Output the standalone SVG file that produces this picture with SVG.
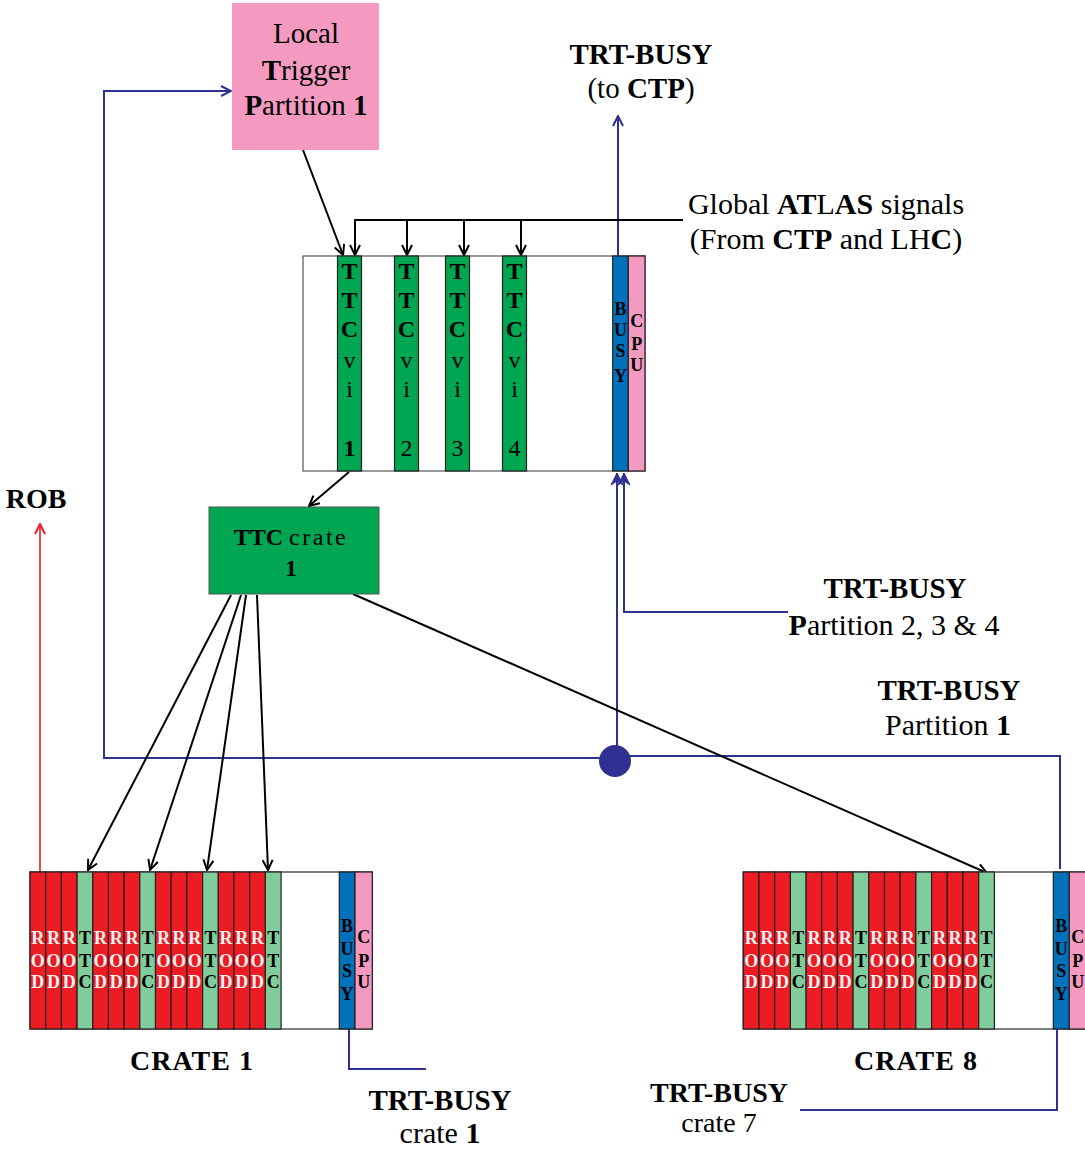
<svg xmlns="http://www.w3.org/2000/svg" width="1085" height="1151" viewBox="0 0 1085 1151">
<style>
text{font-family:"Liberation Serif","Times New Roman",serif;fill:#000}
.b{font-weight:bold}
.lab{font-size:29px;text-anchor:middle}
.lab2{font-size:30px;text-anchor:middle}
.slot{stroke:#231f20;stroke-width:1.2}
.red{fill:#ed1c24}
.lg{fill:#80cc9a}
.dg{fill:#00a651}
.busy{fill:#0072bc}
.cpu{fill:#f49ac1}
.st{font-size:18px;font-weight:bold;text-anchor:middle}
.w{fill:#f2f2f2}
.bl{fill:none;stroke:#2e3192;stroke-width:2}
.k{fill:none;stroke:#000;stroke-width:2}
</style>
<defs>
<marker id="ak" viewBox="0 0 12 12" refX="11" refY="6" markerWidth="12" markerHeight="12" markerUnits="userSpaceOnUse" orient="auto"><path d="M1,1 L11,6 L1,11" fill="none" stroke="#000" stroke-width="2"/></marker>
<marker id="ab" viewBox="0 0 12 12" refX="11" refY="6" markerWidth="12" markerHeight="12" markerUnits="userSpaceOnUse" orient="auto"><path d="M1,1 L11,6 L1,11" fill="none" stroke="#2e3192" stroke-width="2"/></marker>
<marker id="abf" viewBox="0 0 14 14" refX="13" refY="7" markerWidth="14" markerHeight="14" markerUnits="userSpaceOnUse" orient="auto"><path d="M1,1 L13,7 L1,13 L5,7 Z" fill="#2e3192" stroke="#2e3192" stroke-width="1"/></marker>
<marker id="ar" viewBox="0 0 12 12" refX="11" refY="6" markerWidth="12" markerHeight="12" markerUnits="userSpaceOnUse" orient="auto"><path d="M1,1 L11,6 L1,11" fill="none" stroke="#ed1c24" stroke-width="2"/></marker>
</defs>
<rect width="1085" height="1151" fill="#fff"/>

<g id="connectors">
  <path class="bl" d="M617,758 L617,473" marker-end="url(#abf)"/>
  <path class="bl" d="M618,256 L618,116" marker-end="url(#ab)"/>
  <path class="bl" d="M788,612 L624,612 L624,473" marker-end="url(#abf)"/>
  <path class="bl" d="M600,758 L104,758 L104,91 L231,91" marker-end="url(#ab)"/>
  <path class="bl" d="M630,756 L1060,756 L1060,869"/>
  <path class="bl" d="M349,1029 L349,1069 L426,1069"/>
  <path class="bl" d="M1057,1029 L1057,1110 L800,1110"/>
  <path d="M40,872 L40,524" fill="none" stroke="#ed1c24" stroke-width="1.6" marker-end="url(#ar)"/>
  <path class="k" d="M303,150 L343,255" marker-end="url(#ak)"/>
  <path class="k" d="M683,220 L355,220 L355,255" marker-end="url(#ak)"/>
  <path class="k" d="M407,220 L407,255" marker-end="url(#ak)"/>
  <path class="k" d="M464,220 L464,255" marker-end="url(#ak)"/>
  <path class="k" d="M521,220 L521,255" marker-end="url(#ak)"/>
  <path class="k" d="M349,472 L309,506" marker-end="url(#ak)"/>
  <path class="k" d="M231,595 L88,870" marker-end="url(#ak)"/>
  <path class="k" d="M241,595 L150,870" marker-end="url(#ak)"/>
  <path class="k" d="M246,595 L207,870" marker-end="url(#ak)"/>
  <path class="k" d="M257,595 L268,870" marker-end="url(#ak)"/>
  <path class="k" d="M353,594 L987,873" marker-end="url(#ak)"/>
  <circle cx="615" cy="761" r="16" fill="#2e3192"/>
</g>

<g id="local-trigger">
  <rect x="232" y="3" width="147" height="147" fill="#f49ac1"/>
  <text x="306" y="43" style="font-size:29px;text-anchor:middle">Local</text>
  <text x="306" y="80" style="font-size:29px;text-anchor:middle"><tspan class="b">T</tspan>rigger</text>
  <text x="306" y="115" style="font-size:29px;text-anchor:middle"><tspan class="b">P</tspan>artition <tspan class="b">1</tspan></text>
</g>

<g id="ttcvi-crate">
  <rect x="303" y="256" width="342" height="215" fill="#fff" stroke="#555" stroke-width="1.2"/>
  <rect class="slot dg" x="337.5" y="256" width="24" height="215"/>
  <rect class="slot dg" x="394.5" y="256" width="24" height="215"/>
  <rect class="slot dg" x="445.5" y="256" width="24" height="215"/>
  <rect class="slot dg" x="502.5" y="256" width="24" height="215"/>
  <rect class="slot busy" x="612.7" y="256" width="15.6" height="215"/>
  <rect class="slot cpu" x="628.3" y="256" width="16.7" height="215"/>
  <g style="font-size:24px;text-anchor:middle">
    <text x="349.5"><tspan class="b" x="349.5" y="279">T</tspan><tspan class="b" x="349.5" y="308">T</tspan><tspan class="b" x="349.5" y="337">C</tspan><tspan x="349.5" y="368">v</tspan><tspan x="349.5" y="397">i</tspan><tspan class="b" x="349.5" y="456">1</tspan></text>
    <text x="406.5"><tspan class="b" x="406.5" y="279">T</tspan><tspan class="b" x="406.5" y="308">T</tspan><tspan class="b" x="406.5" y="337">C</tspan><tspan x="406.5" y="368">v</tspan><tspan x="406.5" y="397">i</tspan><tspan x="406.5" y="456">2</tspan></text>
    <text x="457.5"><tspan class="b" x="457.5" y="279">T</tspan><tspan class="b" x="457.5" y="308">T</tspan><tspan class="b" x="457.5" y="337">C</tspan><tspan x="457.5" y="368">v</tspan><tspan x="457.5" y="397">i</tspan><tspan x="457.5" y="456">3</tspan></text>
    <text x="514.5"><tspan class="b" x="514.5" y="279">T</tspan><tspan class="b" x="514.5" y="308">T</tspan><tspan class="b" x="514.5" y="337">C</tspan><tspan x="514.5" y="368">v</tspan><tspan x="514.5" y="397">i</tspan><tspan x="514.5" y="456">4</tspan></text>
  </g>
  <text class="b" style="font-size:18px;text-anchor:middle"><tspan x="620.5" y="315">B</tspan><tspan x="620.5" y="336">U</tspan><tspan x="620.5" y="357">S</tspan><tspan x="620.5" y="382">Y</tspan></text>
  <text class="b" style="font-size:18px;text-anchor:middle"><tspan x="636.7" y="327">C</tspan><tspan x="636.7" y="350">P</tspan><tspan x="636.7" y="371">U</tspan></text>
</g>

<g id="ttc-crate-1">
  <rect x="209" y="507" width="170" height="87" fill="#00a651" stroke="#555" stroke-width="1"/>
  <text x="291" y="545" style="font-size:24px;text-anchor:middle"><tspan class="b">TTC</tspan> <tspan style="letter-spacing:2.5px">crate</tspan></text>
  <text class="b" x="291" y="576" style="font-size:24px;text-anchor:middle">1</text>
</g>

<g id="crate-1">
  <rect x="30" y="872" width="342.3" height="157" fill="#fff" stroke="#555" stroke-width="1.5"/>
  <rect class="slot red" x="30" y="872" width="15.7" height="157"/>
  <rect class="slot red" x="45.7" y="872" width="15.7" height="157"/>
  <rect class="slot red" x="61.4" y="872" width="15.7" height="157"/>
  <rect class="slot lg" x="77.1" y="872" width="15.7" height="157"/>
  <rect class="slot red" x="92.8" y="872" width="15.7" height="157"/>
  <rect class="slot red" x="108.4" y="872" width="15.7" height="157"/>
  <rect class="slot red" x="124.1" y="872" width="15.7" height="157"/>
  <rect class="slot lg" x="139.8" y="872" width="15.7" height="157"/>
  <rect class="slot red" x="155.5" y="872" width="15.7" height="157"/>
  <rect class="slot red" x="171.2" y="872" width="15.7" height="157"/>
  <rect class="slot red" x="186.9" y="872" width="15.7" height="157"/>
  <rect class="slot lg" x="202.6" y="872" width="15.7" height="157"/>
  <rect class="slot red" x="218.3" y="872" width="15.7" height="157"/>
  <rect class="slot red" x="233.9" y="872" width="15.7" height="157"/>
  <rect class="slot red" x="249.7" y="872" width="15.7" height="157"/>
  <rect class="slot lg" x="265.4" y="872" width="15.7" height="157"/>
  <rect class="slot busy" x="339.3" y="872" width="15.7" height="157"/>
  <rect class="slot cpu" x="355" y="872" width="17.3" height="157"/>
  <text class="st w"><tspan x="37.8" y="944">R</tspan><tspan x="37.8" y="967">O</tspan><tspan x="37.8" y="988">D</tspan></text>
  <text class="st w"><tspan x="53.5" y="944">R</tspan><tspan x="53.5" y="967">O</tspan><tspan x="53.5" y="988">D</tspan></text>
  <text class="st w"><tspan x="69.2" y="944">R</tspan><tspan x="69.2" y="967">O</tspan><tspan x="69.2" y="988">D</tspan></text>
  <text class="st"><tspan x="84.9" y="944">T</tspan><tspan x="84.9" y="967">T</tspan><tspan x="84.9" y="988">C</tspan></text>
  <text class="st w"><tspan x="100.6" y="944">R</tspan><tspan x="100.6" y="967">O</tspan><tspan x="100.6" y="988">D</tspan></text>
  <text class="st w"><tspan x="116.3" y="944">R</tspan><tspan x="116.3" y="967">O</tspan><tspan x="116.3" y="988">D</tspan></text>
  <text class="st w"><tspan x="132" y="944">R</tspan><tspan x="132" y="967">O</tspan><tspan x="132" y="988">D</tspan></text>
  <text class="st"><tspan x="147.7" y="944">T</tspan><tspan x="147.7" y="967">T</tspan><tspan x="147.7" y="988">C</tspan></text>
  <text class="st w"><tspan x="163.4" y="944">R</tspan><tspan x="163.4" y="967">O</tspan><tspan x="163.4" y="988">D</tspan></text>
  <text class="st w"><tspan x="179.1" y="944">R</tspan><tspan x="179.1" y="967">O</tspan><tspan x="179.1" y="988">D</tspan></text>
  <text class="st w"><tspan x="194.7" y="944">R</tspan><tspan x="194.7" y="967">O</tspan><tspan x="194.7" y="988">D</tspan></text>
  <text class="st"><tspan x="210.4" y="944">T</tspan><tspan x="210.4" y="967">T</tspan><tspan x="210.4" y="988">C</tspan></text>
  <text class="st w"><tspan x="226.1" y="944">R</tspan><tspan x="226.1" y="967">O</tspan><tspan x="226.1" y="988">D</tspan></text>
  <text class="st w"><tspan x="241.8" y="944">R</tspan><tspan x="241.8" y="967">O</tspan><tspan x="241.8" y="988">D</tspan></text>
  <text class="st w"><tspan x="257.5" y="944">R</tspan><tspan x="257.5" y="967">O</tspan><tspan x="257.5" y="988">D</tspan></text>
  <text class="st"><tspan x="273.2" y="944">T</tspan><tspan x="273.2" y="967">T</tspan><tspan x="273.2" y="988">C</tspan></text>
  <text class="b" style="font-size:18px;text-anchor:middle"><tspan x="347" y="932">B</tspan><tspan x="347" y="955">U</tspan><tspan x="347" y="977">S</tspan><tspan x="347" y="1000">Y</tspan></text>
  <text class="b" style="font-size:18px;text-anchor:middle"><tspan x="363.7" y="943">C</tspan><tspan x="363.7" y="967">P</tspan><tspan x="363.7" y="988">U</tspan></text>
  <text class="b" x="192" y="1070" style="font-size:28px;text-anchor:middle;letter-spacing:1px">CRATE 1</text>
</g>

<g id="crate-8">
  <rect x="743.3" y="872" width="343" height="157" fill="#fff" stroke="#555" stroke-width="1.5"/>
  <rect class="slot red" x="743.3" y="872" width="15.7" height="157"/>
  <rect class="slot red" x="759" y="872" width="15.7" height="157"/>
  <rect class="slot red" x="774.7" y="872" width="15.7" height="157"/>
  <rect class="slot lg" x="790.4" y="872" width="15.7" height="157"/>
  <rect class="slot red" x="806.1" y="872" width="15.7" height="157"/>
  <rect class="slot red" x="821.7" y="872" width="15.7" height="157"/>
  <rect class="slot red" x="837.4" y="872" width="15.7" height="157"/>
  <rect class="slot lg" x="853.1" y="872" width="15.7" height="157"/>
  <rect class="slot red" x="868.8" y="872" width="15.7" height="157"/>
  <rect class="slot red" x="884.5" y="872" width="15.7" height="157"/>
  <rect class="slot red" x="900.2" y="872" width="15.7" height="157"/>
  <rect class="slot lg" x="915.9" y="872" width="15.7" height="157"/>
  <rect class="slot red" x="931.6" y="872" width="15.7" height="157"/>
  <rect class="slot red" x="947.2" y="872" width="15.7" height="157"/>
  <rect class="slot red" x="963" y="872" width="15.7" height="157"/>
  <rect class="slot lg" x="978.7" y="872" width="15.7" height="157"/>
  <rect class="slot busy" x="1053.3" y="872" width="16" height="157"/>
  <rect class="slot cpu" x="1069.3" y="872" width="17.3" height="157"/>
  <text class="st w"><tspan x="751.2" y="944">R</tspan><tspan x="751.2" y="967">O</tspan><tspan x="751.2" y="988">D</tspan></text>
  <text class="st w"><tspan x="766.9" y="944">R</tspan><tspan x="766.9" y="967">O</tspan><tspan x="766.9" y="988">D</tspan></text>
  <text class="st w"><tspan x="782.6" y="944">R</tspan><tspan x="782.6" y="967">O</tspan><tspan x="782.6" y="988">D</tspan></text>
  <text class="st"><tspan x="798.3" y="944">T</tspan><tspan x="798.3" y="967">T</tspan><tspan x="798.3" y="988">C</tspan></text>
  <text class="st w"><tspan x="814" y="944">R</tspan><tspan x="814" y="967">O</tspan><tspan x="814" y="988">D</tspan></text>
  <text class="st w"><tspan x="829.6" y="944">R</tspan><tspan x="829.6" y="967">O</tspan><tspan x="829.6" y="988">D</tspan></text>
  <text class="st w"><tspan x="845.3" y="944">R</tspan><tspan x="845.3" y="967">O</tspan><tspan x="845.3" y="988">D</tspan></text>
  <text class="st"><tspan x="861" y="944">T</tspan><tspan x="861" y="967">T</tspan><tspan x="861" y="988">C</tspan></text>
  <text class="st w"><tspan x="876.7" y="944">R</tspan><tspan x="876.7" y="967">O</tspan><tspan x="876.7" y="988">D</tspan></text>
  <text class="st w"><tspan x="892.4" y="944">R</tspan><tspan x="892.4" y="967">O</tspan><tspan x="892.4" y="988">D</tspan></text>
  <text class="st w"><tspan x="908.1" y="944">R</tspan><tspan x="908.1" y="967">O</tspan><tspan x="908.1" y="988">D</tspan></text>
  <text class="st"><tspan x="923.8" y="944">T</tspan><tspan x="923.8" y="967">T</tspan><tspan x="923.8" y="988">C</tspan></text>
  <text class="st w"><tspan x="939.5" y="944">R</tspan><tspan x="939.5" y="967">O</tspan><tspan x="939.5" y="988">D</tspan></text>
  <text class="st w"><tspan x="955.1" y="944">R</tspan><tspan x="955.1" y="967">O</tspan><tspan x="955.1" y="988">D</tspan></text>
  <text class="st w"><tspan x="970.9" y="944">R</tspan><tspan x="970.9" y="967">O</tspan><tspan x="970.9" y="988">D</tspan></text>
  <text class="st"><tspan x="986.6" y="944">T</tspan><tspan x="986.6" y="967">T</tspan><tspan x="986.6" y="988">C</tspan></text>
  <text class="b" style="font-size:18px;text-anchor:middle"><tspan x="1061.3" y="932">B</tspan><tspan x="1061.3" y="955">U</tspan><tspan x="1061.3" y="977">S</tspan><tspan x="1061.3" y="1000">Y</tspan></text>
  <text class="b" style="font-size:18px;text-anchor:middle"><tspan x="1077.8" y="943">C</tspan><tspan x="1077.8" y="967">P</tspan><tspan x="1077.8" y="988">U</tspan></text>
  <text class="b" x="916" y="1070" style="font-size:28px;text-anchor:middle;letter-spacing:1px">CRATE 8</text>
</g>

<g id="labels">
  <text class="lab b" x="641" y="64">TRT-BUSY</text>
  <text class="lab" x="641" y="98">(to <tspan class="b">CTP</tspan>)</text>
  <text class="lab2" x="826" y="214">Global <tspan class="b">AT</tspan>L<tspan class="b">AS</tspan> signals</text>
  <text class="lab2" x="826" y="249">(From <tspan class="b">CTP</tspan> and LH<tspan class="b">C</tspan>)</text>
  <text class="b" x="36" y="508" style="font-size:28px;text-anchor:middle">ROB</text>
  <text class="lab b" x="895" y="598">TRT-BUSY</text>
  <text class="lab2" x="894" y="635"><tspan class="b">P</tspan>artition 2, 3 &amp; 4</text>
  <text class="lab b" x="949" y="700">TRT-BUSY</text>
  <text class="lab2" x="948" y="735">Partition <tspan class="b">1</tspan></text>
  <text class="lab b" x="440" y="1110">TRT-BUSY</text>
  <text class="lab2" x="440" y="1143">crate <tspan class="b">1</tspan></text>
  <text class="b" x="719" y="1102" style="font-size:28px;text-anchor:middle">TRT-BUSY</text>
  <text x="719" y="1132" style="font-size:28px;text-anchor:middle">crate 7</text>
</g>
</svg>
